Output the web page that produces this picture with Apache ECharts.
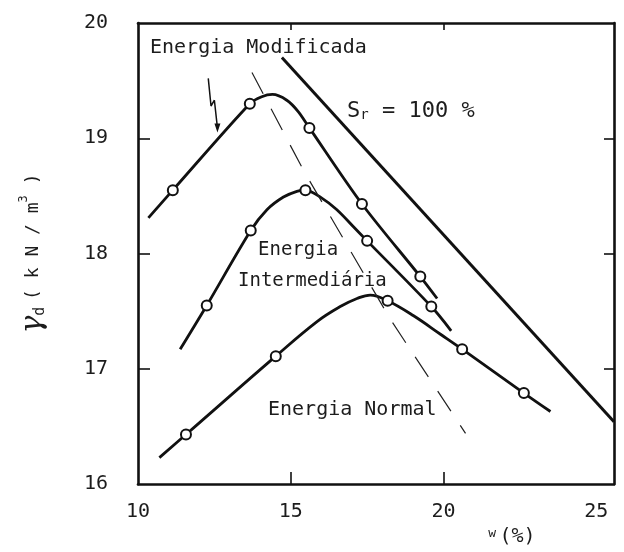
<!DOCTYPE html>
<html>
<head>
<meta charset="utf-8">
<script src="https://cdn.jsdelivr.net/npm/echarts@6/dist/echarts.min.js"></script>
<style>html,body{margin:0;padding:0;background:#fff;}#c{width:624px;height:552px;}</style>
</head>
<body>
<div id="c"></div>
<script>
// ---- data (w in %, gamma_d in kN/m3) ----
const xTickLabels = [10, 15, 20, 25];
const yTickLabels = [16, 17, 18, 19, 20];
const xInnerTicks = [15, 20];
const yInnerTicks = [17, 18, 19];

// Energia Modificada
const modCurve = [[10.34,18.31],[11.14,18.55],[13.66,19.30],[14.05,19.36],[14.40,19.38],[14.87,19.33],[15.25,19.23],[15.61,19.09],[17.33,18.43],[19.24,17.80],[19.79,17.61]];
const modPoints = [[11.14,18.55],[13.66,19.30],[15.61,19.09],[17.33,18.43],[19.24,17.80]];

// Energia Intermediária
const intCurve = [[11.38,17.17],[12.25,17.55],[13.69,18.20],[14.22,18.38],[14.76,18.49],[15.20,18.54],[15.48,18.55],[15.97,18.49],[16.51,18.38],[17.06,18.23],[17.50,18.11],[19.60,17.54],[20.25,17.33]];
const intPoints = [[12.25,17.55],[13.69,18.20],[15.48,18.55],[17.50,18.11],[19.60,17.54]];

// Energia Normal
const normCurve = [[10.70,16.23],[11.57,16.43],[14.51,17.11],[15.86,17.41],[16.62,17.54],[17.17,17.61],[17.60,17.64],[18.17,17.59],[19.02,17.46],[19.90,17.30],[20.61,17.17],[22.63,16.79],[23.50,16.63]];
const normPoints = [[11.57,16.43],[14.51,17.11],[18.17,17.59],[20.61,17.17],[22.63,16.79]];

// Sr = 100 % line
const satLine = [[14.71,19.70],[25.58,16.54]];
// line of optimums (dashed)
const optLine = [[13.73,19.57],[15.42,18.72],[18.26,17.43],[20.72,16.44]];
// annotation arrow
const arrowPath = [[12.30,19.52],[12.39,19.28],[12.50,19.33],[12.60,19.09]];

const INK = '#111';
const TXT = '#1c1c1c';
const MONO = 'DejaVu Sans Mono';

const chart = echarts.init(document.getElementById('c'), null, {renderer: 'canvas'});

function curve(data, extra) {
  return Object.assign({
    type: 'line', data: data, showSymbol: false, symbol: 'none', smooth: 0.3,
    lineStyle: {color: INK, width: 2.8}, silent: true, z: 3
  }, extra || {});
}
function pts(data) {
  return {
    type: 'scatter', data: data, symbol: 'circle', symbolSize: 10,
    itemStyle: {color: '#fff', borderColor: INK, borderWidth: 2, opacity: 1}, z: 5, silent: true
  };
}

const arrowData = arrowPath.map((p, i) => i === arrowPath.length - 1
  ? {value: p, symbol: 'triangle', symbolSize: [6, 9], symbolRotate: 180}
  : {value: p, symbol: 'none'});

const axisLine = {show: true, lineStyle: {color: INK, width: 2.6}};

chart.setOption({
  animation: false,
  backgroundColor: '#fff',
  grid: {left: 138, right: 10, top: 23, bottom: 66, containLabel: false},
  xAxis: [{
    type: 'value', min: 10, max: 25.58, position: 'bottom',
    axisLine: axisLine,
    axisTick: {show: true, inside: true, length: 12, customValues: xInnerTicks, lineStyle: {color: INK, width: 1.6}},
    axisLabel: {customValues: xTickLabels, fontSize: 20, color: TXT, fontFamily: MONO, margin: 18},
    splitLine: {show: false},
    name: '{w|w} {p|(%)}',
    nameLocation: 'middle', nameGap: 42,
    nameTextStyle: {padding: [0, 0, 0, 272], rich: {
      w: {fontSize: 13, fontFamily: MONO, color: TXT, verticalAlign: 'top'},
      p: {fontSize: 20, fontFamily: MONO, color: TXT}
    }}
  }, {
    type: 'value', min: 10, max: 25.58, position: 'top',
    axisLine: axisLine,
    axisTick: {show: true, inside: true, length: 7, customValues: xInnerTicks, lineStyle: {color: INK, width: 1.6}},
    axisLabel: {show: false}, splitLine: {show: false}
  }],
  yAxis: [{
    type: 'value', min: 16, max: 20, position: 'left',
    axisLine: axisLine,
    axisTick: {show: true, inside: true, length: 12, customValues: yInnerTicks, lineStyle: {color: INK, width: 1.6}},
    axisLabel: {customValues: yTickLabels, fontSize: 20, color: TXT, fontFamily: MONO, margin: 30},
    splitLine: {show: false},
    name: '{g|γ}{d|d}  {t|( k N / m}{s|3}{t| )}',
    nameLocation: 'middle', nameRotate: 90, nameGap: 90,
    nameTextStyle: {rich: {
      g: {fontSize: 30, fontFamily: 'DejaVu Serif', fontStyle: 'italic', color: TXT},
      d: {fontSize: 15, fontFamily: MONO, color: TXT, verticalAlign: 'bottom'},
      t: {fontSize: 18, fontFamily: MONO, color: TXT},
      s: {fontSize: 12, fontFamily: MONO, color: TXT, verticalAlign: 'top'}
    }}
  }, {
    type: 'value', min: 16, max: 20, position: 'right',
    axisLine: axisLine,
    axisTick: {show: true, inside: true, length: 10, customValues: yInnerTicks, lineStyle: {color: INK, width: 1.6}},
    axisLabel: {show: false}, splitLine: {show: false}
  }],
  series: [
    curve(modCurve),
    curve(intCurve),
    curve(normCurve, {smooth: 0.4}),
    curve(satLine, {smooth: false, lineStyle: {color: INK, width: 3}}),
    curve(optLine, {smooth: false, lineStyle: {color: '#222', width: 1.2, type: [24, 17]}}),
    {type: 'line', data: arrowData, showSymbol: true, symbol: 'none', smooth: false,
     lineStyle: {color: INK, width: 1.5}, itemStyle: {color: INK}, silent: true, z: 3},
    pts(modPoints),
    pts(intPoints),
    pts(normPoints)
  ],
  graphic: [
    {type: 'text', x: 150, y: 48, silent: true,
     style: {text: 'Energia Modificada', font: '20px "DejaVu Sans Mono"', fill: TXT, align: 'left', verticalAlign: 'middle'}},
    {type: 'text', x: 347, y: 111, silent: true,
     style: {text: '{s|S}{r|r}{t| = 100 %}', fill: TXT, align: 'left', verticalAlign: 'middle',
       rich: {
         s: {fontSize: 22, fontFamily: MONO, fill: TXT},
         r: {fontSize: 14, fontFamily: MONO, fill: TXT, verticalAlign: 'bottom'},
         t: {fontSize: 22, fontFamily: MONO, fill: TXT}
       }}},
    {type: 'text', x: 258, y: 250, silent: true,
     style: {text: 'Energia', font: '19px "DejaVu Sans Mono"', fill: TXT, align: 'left', verticalAlign: 'middle'}},
    {type: 'text', x: 238, y: 281, silent: true,
     style: {text: 'Intermediária', font: '19px "DejaVu Sans Mono"', fill: TXT, align: 'left', verticalAlign: 'middle'}},
    {type: 'text', x: 268, y: 410, silent: true,
     style: {text: 'Energia Normal', font: '20px "DejaVu Sans Mono"', fill: TXT, align: 'left', verticalAlign: 'middle'}}
  ]
});
</script>
</body>
</html>
